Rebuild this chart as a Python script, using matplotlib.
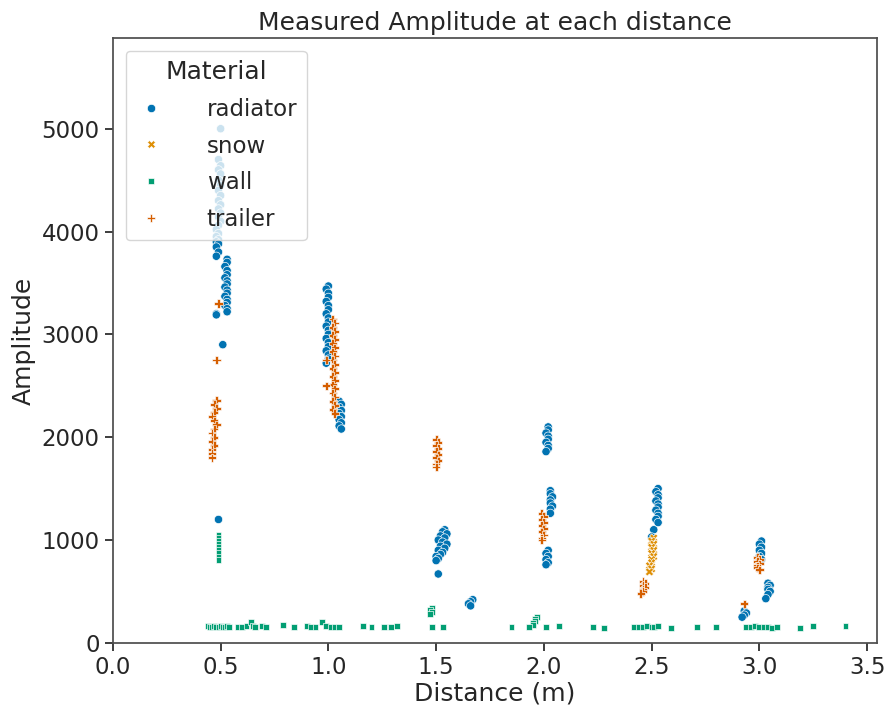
import pandas as pd
import numpy as np
import matplotlib.pyplot as plt
import seaborn as sns

# radiator readings, grouped by stand-off distance
radiator_dist = (
    [0.50, 0.49, 0.50, 0.49, 0.50, 0.49, 0.50, 0.49, 0.50, 0.49, 0.50, 0.49, 0.50,
     0.49, 0.50, 0.49, 0.48, 0.49, 0.48, 0.49, 0.48, 0.49, 0.48, 0.49, 0.48]
    + [0.53, 0.53, 0.52, 0.53, 0.53, 0.52, 0.53, 0.53, 0.52, 0.53, 0.53, 0.52, 0.53,
       0.53, 0.52, 0.53, 0.53]
    + [0.48, 0.48, 0.51, 0.49]
    + [1.00, 0.99, 1.00, 1.00, 0.99, 1.00, 1.00, 0.99, 1.00, 1.00, 0.99, 1.00, 1.00,
       0.99, 1.00, 1.00, 0.99, 1.00, 1.00, 0.99]
    + [1.05, 1.06, 1.05, 1.06, 1.05, 1.06, 1.05, 1.06, 1.05, 1.06]
    + [1.54, 1.53, 1.55, 1.52, 1.54, 1.51, 1.53, 1.55, 1.52, 1.54, 1.51, 1.53, 1.52,
       1.50, 1.51, 1.50, 1.51]
    + [1.67, 1.66, 1.65, 1.66]
    + [2.02, 2.02, 2.01, 2.02, 2.02, 2.01, 2.02, 2.02, 2.01]
    + [2.03, 2.03, 2.04, 2.03, 2.03, 2.04, 2.03, 2.03]
    + [2.02, 2.01, 2.02, 2.01, 2.02, 2.01]
    + [2.53, 2.52, 2.53, 2.53, 2.52, 2.53, 2.53, 2.52, 2.53, 2.53, 2.52, 2.53, 2.51, 2.50]
    + [3.01, 3.00, 3.01, 3.00, 3.01, 3.00, 3.01]
    + [3.04, 3.05, 3.04, 3.04, 3.05, 3.04, 3.03]
    + [2.93, 2.94, 2.93, 2.92]
)
radiator_amp = (
    [5000, 4700, 4640, 4600, 4560, 4500, 4450, 4400, 4350, 4300, 4260, 4220, 4180,
     4140, 4100, 4060, 4020, 3980, 3950, 3920, 3900, 3880, 3850, 3800, 3760]
    + [3730, 3700, 3660, 3620, 3580, 3550, 3520, 3490, 3460, 3430, 3400, 3370, 3340,
       3310, 3280, 3250, 3220]
    + [3200, 3190, 2900, 1200]
    + [3470, 3440, 3400, 3360, 3320, 3280, 3240, 3200, 3160, 3120, 3080, 3040, 3000,
       2960, 2920, 2880, 2840, 2800, 2760, 2720]
    + [2350, 2320, 2290, 2260, 2230, 2200, 2170, 2140, 2110, 2080]
    + [1100, 1080, 1060, 1040, 1020, 1000, 980, 960, 940, 920, 900, 880, 860,
       840, 820, 800, 670]
    + [420, 400, 380, 360]
    + [2100, 2070, 2040, 2010, 1980, 1950, 1920, 1890, 1860]
    + [1480, 1450, 1420, 1390, 1360, 1330, 1300, 1260]
    + [900, 870, 840, 810, 780, 760]
    + [1500, 1470, 1440, 1410, 1380, 1350, 1320, 1290, 1260, 1230, 1200, 1170, 1100, 1030]
    + [990, 960, 930, 900, 870, 840, 810]
    + [580, 560, 540, 520, 500, 470, 430]
    + [310, 290, 270, 250]
)

snow_dist = [2.51, 2.50, 2.51, 2.50, 2.51, 2.50, 2.51, 2.50, 2.50, 2.49, 2.50, 2.49]
snow_amp = [1020, 990, 960, 930, 900, 870, 840, 810, 780, 750, 720, 690]

wall_dist = (
    [0.49, 0.49, 0.49, 0.49, 0.49, 0.49, 0.49, 0.49, 0.49]
    + [1.48, 1.47, 1.48, 1.47]
    + [1.97, 1.96, 1.96, 1.95, 1.95]
    + [0.44, 0.45, 0.46, 0.47, 0.48, 0.49, 0.50, 0.51, 0.52, 0.53, 0.54,
       0.58, 0.60, 0.62, 0.64, 0.65, 0.66, 0.69, 0.71, 0.79, 0.84, 0.90, 0.92,
       0.94, 0.97, 0.99, 1.01, 1.03, 1.05, 1.16, 1.20, 1.26, 1.29, 1.32, 1.48,
       1.53, 1.85, 1.93, 2.01, 2.07, 2.23, 2.28, 2.42, 2.44, 2.46, 2.48, 2.50,
       2.51, 2.53, 2.59, 2.71, 2.80, 2.94, 2.96, 2.98, 3.00, 3.02, 3.04, 3.06,
       3.08, 3.19, 3.25, 3.40]
)
wall_amp = (
    [1050, 1020, 990, 960, 930, 900, 870, 840, 810]
    + [340, 320, 300, 280]
    + [250, 230, 210, 190, 170]
    + [160, 155, 150, 160, 155, 150, 160, 150, 155, 160, 150,
       150, 155, 160, 205, 160, 150, 160, 150, 170, 150, 160, 150,
       155, 200, 160, 150, 155, 150, 160, 150, 155, 150, 160, 150,
       155, 150, 150, 150, 160, 150, 145, 150, 155, 150, 160, 155,
       150, 160, 145, 150, 150, 155, 150, 160, 150, 155, 150, 145,
       150, 145, 160, 160]
)

trailer_dist = (
    [0.48, 0.47, 0.48, 0.47, 0.46, 0.47, 0.48, 0.47, 0.46, 0.47, 0.46, 0.47, 0.46,
     0.46, 0.46]
    + [0.48, 0.49]
    + [1.02, 1.03, 1.02, 1.03, 1.02, 1.03, 1.02, 1.03, 1.02, 1.03, 1.02, 1.03, 1.02,
       1.03, 1.02, 1.03, 1.02, 1.03, 1.02, 1.03, 1.02, 1.03, 1.02, 1.03]
    + [0.99, 0.99]
    + [1.50, 1.51, 1.50, 1.51, 1.50, 1.51, 1.50, 1.51, 1.50, 1.50]
    + [1.99, 2.00, 1.99, 2.00, 1.99, 2.00, 1.99, 2.00, 1.99, 1.99]
    + [2.46, 2.47, 2.46, 2.47, 2.46, 2.46, 2.45]
    + [2.99, 3.00, 2.99, 3.00, 2.99, 2.99, 3.00]
    + [2.93]
)
trailer_amp = (
    [2360, 2320, 2280, 2240, 2200, 2160, 2120, 2080, 2040, 2000, 1960, 1920, 1880,
     1840, 1800]
    + [2750, 3300]
    + [3150, 3110, 3070, 3030, 2990, 2950, 2910, 2870, 2830, 2790, 2750, 2710, 2670,
       2630, 2590, 2550, 2510, 2470, 2430, 2390, 2350, 2310, 2270, 2230]
    + [2750, 2500]
    + [1980, 1950, 1920, 1890, 1860, 1830, 1800, 1770, 1740, 1710]
    + [1260, 1230, 1200, 1170, 1140, 1110, 1080, 1050, 1020, 1000]
    + [600, 580, 560, 540, 520, 500, 480]
    + [830, 810, 790, 770, 750, 730, 710]
    + [380]
)

materials = ['radiator', 'snow', 'wall', 'trailer']

data = pd.DataFrame({
    'Distance (m)': radiator_dist + snow_dist + wall_dist + trailer_dist,
    'Amplitude': radiator_amp + snow_amp + wall_amp + trailer_amp,
    'Material': (['radiator'] * len(radiator_dist) + ['snow'] * len(snow_dist)
                 + ['wall'] * len(wall_dist) + ['trailer'] * len(trailer_dist)),
})

sns.set_theme(context='notebook', style='ticks', font_scale=1.5)
plt.rcParams['axes.edgecolor'] = '0.3'

fig = plt.figure(figsize=(8.89, 7.08), dpi=100)
ax = fig.add_axes([0.127, 0.092, 0.86, 0.854])
sns.scatterplot(data=data, x='Distance (m)', y='Amplitude', hue='Material',
                style='Material', hue_order=materials, style_order=materials,
                palette='colorblind', ax=ax)

ax.set_xlim(left=0)
ax.set_ylim(0, 5880)
ax.set_xticks(np.arange(0, 3.51, 0.5))
ax.set_yticks(np.arange(0, 5001, 1000))
ax.set_title('Measured Amplitude at each distance')
ax.set_xlabel('Distance (m)', labelpad=2)
ax.legend(title='Material', loc='upper left', handlelength=1.4,
          handletextpad=1.75, borderpad=0.4, labelspacing=0.6,
          borderaxespad=0.55)

fig.savefig('out.png', dpi=100)
